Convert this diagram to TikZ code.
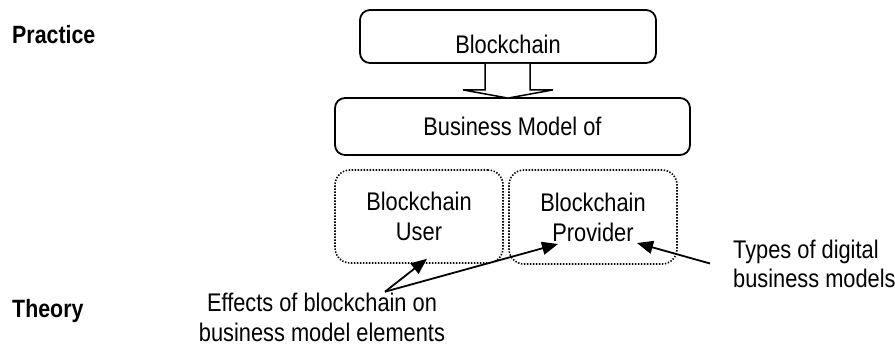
\documentclass[tikz,border=0pt]{standalone}
\usepackage{fontspec}
\setmainfont{Liberation Sans}[FakeStretch=0.855]
\usetikzlibrary{arrows.meta,calc}

\tikzset{
  base/.style={font=\fontsize{25.5}{30}\selectfont},
  solidbox/.style={base, draw, line width=1.8pt, rounded corners=10pt, align=center},
  dotbox/.style={base, draw, line width=1.6pt, dash pattern=on 1.4pt off 1.6pt,
                 rounded corners=15pt, align=center},
  lbl/.style={base, inner sep=0pt},
  sidelbl/.style={font=\fontsize{25}{30}\selectfont\bfseries, inner sep=0pt, anchor=base west},
  pointer/.style={line width=1.8pt, -{Triangle[length=16pt,width=13pt]}},
  blockarrow/.style={line width=1.5pt, fill=white, line join=miter}
}

\begin{document}
\begin{tikzpicture}[x=1pt,y=-1pt]
  \useasboundingbox (0,0) rectangle (895,346);

  % side labels
  \node[sidelbl] (practice) at (12,43) {Practice};
  \node[sidelbl] (theory) at (12,317) {Theory};

  % main boxes
  \node[solidbox, minimum width=296pt, minimum height=53pt, text height=33pt, text depth=0pt]
       (bc) at (508,36.5) {Blockchain};
  \node[solidbox, minimum width=355pt, minimum height=57pt] (bm) at (512.5,126.5) {Business Model of};

  % hollow block arrow between the two boxes
  \draw[blockarrow] ($(bc.south)+(-23,0)$) -- ++(0,26) -- ++(-22,0)
        -- ($(bc.south |- bm.north)+(0,1)$) -- ($(bc.south)+(45,26)$) -- ++(-23,0) -- ++(0,-26);

  % user / provider boxes
  \node[dotbox, minimum width=168pt, minimum height=93pt] (user) at (419,216.5) {Blockchain\\User};
  \node[dotbox, minimum width=168pt, minimum height=94pt] (prov) at (593,217) {Blockchain\\Provider};

  % theory annotations
  \node[lbl, align=center] (eff) at (322,317.7) {Effects of blockchain on\\business model elements};
  \node[lbl, align=left, anchor=west, font=\fontsize{25.5}{29}\selectfont] (types) at (733,263.5) {Types of digital\\business models};

  \coordinate (effsrc) at ($(eff.center)+(63,-26)$);
  \coordinate (usertip) at ($(user.south)+(8,-5)$);
  \coordinate (provtip) at ($(prov.center)+(-35,27)$);
  \coordinate (typestip) at ($(prov.center)+(44,26)$);
  \coordinate (typessrc) at ($(types.west)+(-23,0)$);

  \draw[pointer] (effsrc) -- (usertip);
  \draw[pointer] (effsrc) -- (provtip);
  \draw[pointer] (typessrc) -- (typestip);
\end{tikzpicture}
\end{document}
